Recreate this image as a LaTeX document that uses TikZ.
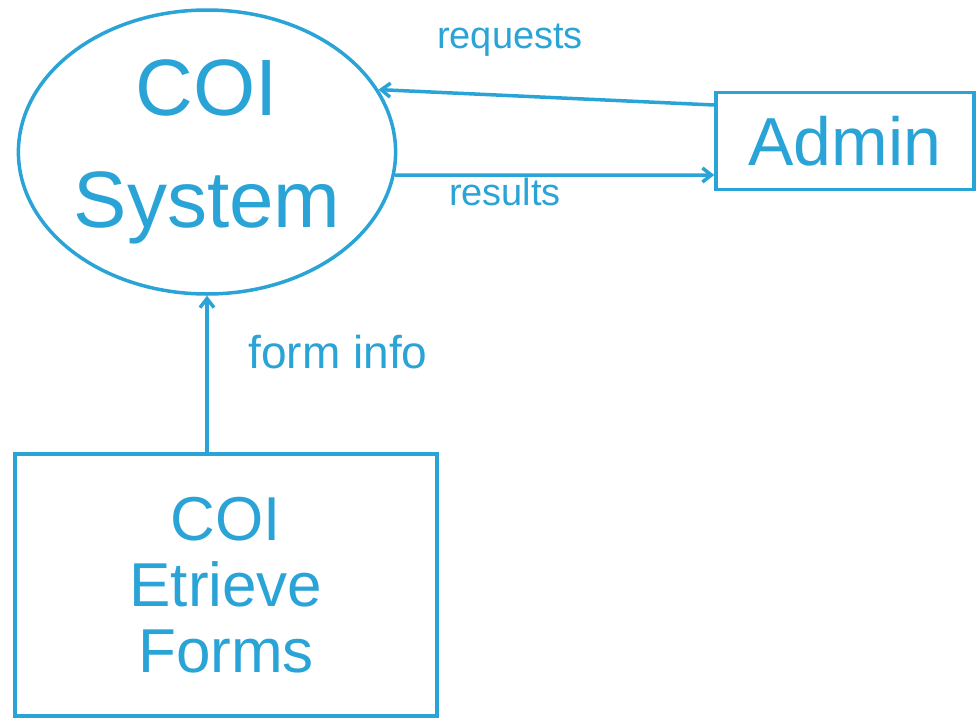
\documentclass[tikz,border=0pt]{standalone}
\usepackage{fontspec}
\setmainfont{Liberation Sans}
\usetikzlibrary{shapes.geometric,arrows.meta}
\definecolor{pen}{HTML}{2AA3D6}
\tikzset{
  ink/.style={draw=pen, line width=3.5pt},
  flow/.style={ink, -{Straight Barb[length=9pt,width=14pt]}},
  lbl/.style={text=pen, inner sep=0pt, font=\fontsize{38}{42}\selectfont},
}
\begin{document}
\begin{tikzpicture}[x=1pt,y=-1pt]
\useasboundingbox (0,0) rectangle (980,723);
\node[ink, ellipse, minimum width=374pt, minimum height=284pt, text=pen, align=center,
      font=\fontsize{80}{112}\selectfont, inner sep=0pt] (sys) at (207,152) {COI\\System};
\node[ink, rectangle, minimum width=258pt, minimum height=97pt, text=pen,
      font=\fontsize{68}{70}\selectfont, inner sep=0pt] (admin) at (845,141) {Admin};
\node[ink, rectangle, minimum width=422pt, minimum height=262pt, text=pen, align=center,
      font=\fontsize{62}{66}\selectfont, inner sep=0pt] (forms) at (226,585) {COI\\Etrieve\\Forms};
\draw[flow] ([yshift=36pt]admin.west) -- (sys.20);
\draw[flow] (sys.-7) -- ([yshift=-34pt]admin.west);
\draw[flow] (sys.south |- forms.north) -- (sys.south);
\node[lbl] (lreq) at (510,40) {requests};
\node[lbl] (lres) at (505,192) {results};
\node[lbl, font=\fontsize{46}{50}\selectfont] (lform) at (338,352) {form info};
\end{tikzpicture}
\end{document}
